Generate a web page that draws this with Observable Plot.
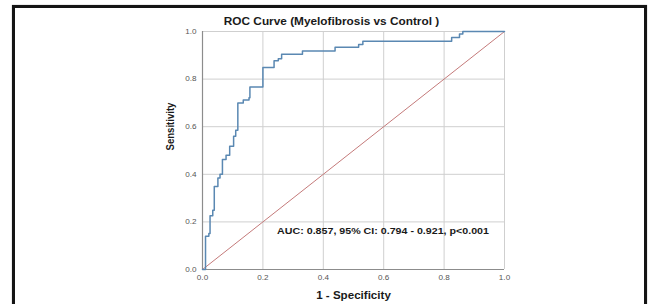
<!DOCTYPE html>
<html>
<head>
<meta charset="utf-8">
<script src="https://cdn.jsdelivr.net/npm/d3@7"></script>
<script src="https://cdn.jsdelivr.net/npm/@observablehq/plot@0.6"></script>
<style>
  html, body { margin: 0; padding: 0; background: #fff; }
  #wrap { position: relative; width: 654px; height: 304px; overflow: hidden; background: #fff; }
  #frame { position: absolute; left: 12px; top: 5px; width: 635px; height: 330px; box-sizing: border-box; border: 3px solid #141414; box-shadow: 0 0 1px #888; pointer-events: none; }
  #chart { position: absolute; left: 0; top: 0; }
  svg { font-family: "Liberation Sans", Arial, sans-serif; }
</style>
</head>
<body>
<div id="wrap"><div id="chart"></div><div id="frame"></div></div>
<script>
// ROC curve points (1 - specificity, sensitivity)
const fpr = [0, 0.010, 0.021, 0.025, 0.034, 0.039, 0.051, 0.058, 0.066, 0.078, 0.090, 0.103, 0.110, 0.117, 0.135, 0.154, 0.157, 0.200, 0.237, 0.251, 0.262, 0.331, 0.439, 0.517, 0.531, 0.825, 0.851, 0.862, 1.0];
const tpr = [0, 0.140, 0.151, 0.226, 0.249, 0.349, 0.384, 0.400, 0.462, 0.480, 0.518, 0.560, 0.585, 0.700, 0.712, 0.722, 0.767, 0.849, 0.877, 0.886, 0.904, 0.918, 0.934, 0.945, 0.959, 0.975, 0.989, 1.0, 1.0];
const diagonal = [0, 1];
const ticks = [0, 0.2, 0.4, 0.6, 0.8, 1.0];
const titleText = "ROC Curve (Myelofibrosis vs Control )";
const xLabel = "1 - Specificity";
const yLabel = "Sensitivity";
const annotation = ["AUC: 0.857, 95% CI: 0.794 - 0.921, p<0.001"];
const annotationPos = {x: 0.247, y: 0.163};

const roc = fpr.map((x, i) => ({x, y: tpr[i]}));

const chart = Plot.plot({
  width: 654,
  height: 304,
  marginLeft: 202,
  marginRight: 150,
  marginTop: 31,
  marginBottom: 35,
  x: {domain: [0, 1], ticks: ticks, tickFormat: d3.format(".1f")},
  y: {domain: [0, 1], ticks: ticks, tickFormat: d3.format(".1f")},
  style: {background: "transparent", overflow: "visible"},
  marks: [
    Plot.gridX(ticks, {stroke: "#cfcfcf", strokeOpacity: 1, strokeWidth: 1}),
    Plot.gridY(ticks, {stroke: "#cfcfcf", strokeOpacity: 1, strokeWidth: 1}),
    Plot.ruleX([0], {stroke: "#8c8c8c", strokeWidth: 1.2}),
    Plot.ruleY([0], {stroke: "#8c8c8c", strokeWidth: 1.2}),
    Plot.axisX(ticks, {tickSize: 0, tickPadding: 6, fontSize: 7, fill: "#555", label: null, tickFormat: d3.format(".1f")}),
    Plot.axisY(ticks, {tickSize: 0, tickPadding: 6, fontSize: 7, fill: "#555", label: null, tickFormat: d3.format(".1f")}),
    Plot.line(diagonal.map(d => ({x: d, y: d})), {x: "x", y: "y", stroke: "#c47a7a", strokeWidth: 1}),
    Plot.line(roc, {x: "x", y: "y", curve: "step-after", stroke: "#5a88b2", strokeWidth: 1.5}),
    Plot.text(annotation, {x: () => annotationPos.x, y: () => annotationPos.y, text: d => d, textAnchor: "start", fontSize: 9.2, fontWeight: "bold", fill: "#1a1a1a", className: "stretch"}),
    Plot.text([titleText], {frameAnchor: "top", text: d => d, dx: -22, dy: -10, lineAnchor: "middle", fontSize: 10.2, fontWeight: "bold", fill: "#1a1a1a", className: "stretch"}),
    Plot.text([xLabel], {frameAnchor: "bottom", text: d => d, dy: 26, lineAnchor: "middle", fontSize: 10, fontWeight: "bold", fill: "#1a1a1a", className: "stretch"}),
    Plot.text([yLabel], {frameAnchor: "left", text: d => d, dx: -32, rotate: -90, lineAnchor: "middle", fontSize: 9.6, fontWeight: "bold", fill: "#1a1a1a", className: "vstretch"})
  ]
});
document.getElementById("chart").appendChild(chart);

// horizontal stretch of texts (the source image is slightly widened)
chart.querySelectorAll("g.stretch text, g[aria-label='x-axis tick label'] text, g[aria-label='y-axis tick label'] text").forEach(t => {
  const tr = t.getAttribute("transform") || "";
  t.setAttribute("transform", tr + " scale(1.16,1)");
});
chart.querySelectorAll("g.vstretch text").forEach(t => {
  const tr = t.getAttribute("transform") || "";
  t.setAttribute("transform", tr + " scale(1,1.16)");
});
</script>
</body>
</html>
